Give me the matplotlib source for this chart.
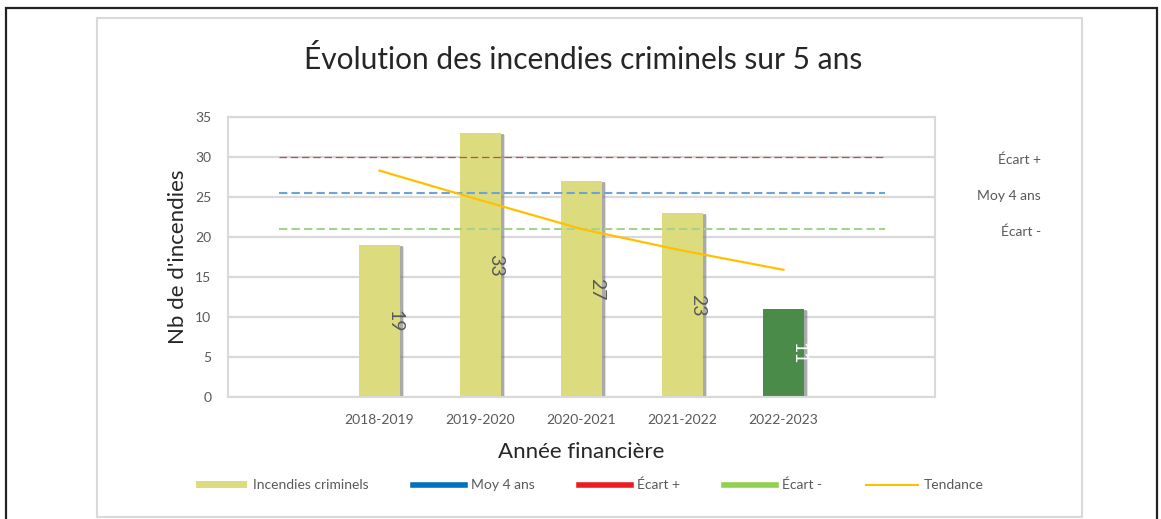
import numpy as np
import matplotlib
matplotlib.use("Agg")
import matplotlib.pyplot as plt
from matplotlib.patches import Rectangle, Patch
from matplotlib.lines import Line2D
from matplotlib import patheffects as pe
from matplotlib.transforms import blended_transform_factory

# ---- data ----
categories = ["", "2018-2019", "2019-2020", "2020-2021", "2021-2022", "2022-2023", ""]
years = ["2018-2019", "2019-2020", "2020-2021", "2021-2022", "2022-2023"]
incendies = [19, 33, 27, 23, 11]
tendance = [28.3, 24.6, 21.0, 18.3, 15.9]
moy_4_ans = 25.5
ecart_plus = 30
ecart_moins = 21
yticks = [0, 5, 10, 15, 20, 25, 30, 35]

plt.rcParams['font.family'] = ['Lato', 'DejaVu Sans']

W, H = 1161, 519
fig = plt.figure(figsize=(W / 100, H / 100), dpi=100)
fig.patch.set_facecolor("white")

def fx(px):
    return px / W

def fy(py):
    return 1 - py / H

# outer black frame and inner chart frame
fig.patches.append(Rectangle((fx(6), fy(530)), fx(1157) - fx(6), fy(8) - fy(530),
                             transform=fig.transFigure, fill=False, ec="#222222", lw=1.6))
fig.patches.append(Rectangle((fx(97), fy(517)), fx(1082) - fx(97), fy(18) - fy(517),
                             transform=fig.transFigure, fill=False, ec="#d9d9d9", lw=1.5))

ax = fig.add_axes([fx(228), fy(397), fx(935) - fx(228), fy(117) - fy(397)])
ax.set_facecolor("white")

xs_all = np.arange(len(categories))
xs = np.arange(1, 1 + len(years))

ax.set_ylim(0, 35)
ax.set_xlim(-0.5, len(categories) - 0.5)
ax.set_yticks(yticks)
ax.yaxis.grid(True, color="#d9d9d9", lw=1.6)
ax.set_axisbelow(True)

bar_colors = ["#dcdc7e"] * (len(years) - 1) + ["#4b8b4a"]
bars = ax.bar(xs, incendies, width=0.4, color=bar_colors, zorder=2)
for b in bars:
    b.set_path_effects([pe.SimplePatchShadow(offset=(2.2, -1), shadow_rgbFace="#666666", alpha=0.5),
                        pe.SimplePatchShadow(offset=(3.4, -1.5), shadow_rgbFace="#999999", alpha=0.3),
                        pe.Normal()])

# reference lines
ax.hlines(ecart_plus, xs_all[0], xs_all[-1], colors="#b5524e", linestyles=(0, (6, 3)), lw=0.9, zorder=3)
ax.hlines(moy_4_ans, xs_all[0], xs_all[-1], colors="#6fa3d8", linestyles=(0, (4, 2)), lw=1.5, zorder=3)
ax.hlines(ecart_moins, xs_all[0], xs_all[-1], colors="#a9d18e", linestyles=(0, (4, 2)), lw=1.5, zorder=3)

# trend
ax.plot(xs, tendance, color="#ffc000", lw=1.6, zorder=4)

# bar labels
label_colors = ["#595959"] * (len(years) - 1) + ["white"]
for x, v, c in zip(xs, incendies, label_colors):
    ax.annotate(str(v), (x, v / 2), xytext=(11, 0), textcoords="offset points",
                rotation=270, ha="center", va="center", fontsize=14, color=c, zorder=5)

# right-side series labels
tr = blended_transform_factory(ax.transAxes, ax.transData)
for val, txt in [(ecart_plus, "Écart +"), (moy_4_ans, "Moy 4 ans"), (ecart_moins, "Écart -")]:
    ax.annotate(txt, (1.15, val), xycoords=tr, xytext=(0, -2), textcoords="offset points",
                ha="right", va="center", fontsize=10, color="#595959", annotation_clip=False)

ax.set_xticks(xs_all)
ax.set_xticklabels(categories)
ax.tick_params(axis="both", length=0, labelsize=10, labelcolor="#595959")
ax.tick_params(axis="x", pad=12)
ax.tick_params(axis="y", pad=12)

for s in ax.spines.values():
    s.set_color("#d9d9d9")
    s.set_linewidth(1.5)

ax.set_xlabel("Année financière", fontsize=16, color="#262626", labelpad=12)
ax.set_ylabel("Nb de d'incendies", fontsize=16, color="#262626", labelpad=5)

fig.text(0.502, fy(60), "Évolution des incendies criminels sur 5 ans", ha="center", va="center",
         fontsize=21.5, color="#262626")

handles = [
    Patch(facecolor="#dcdc7e", edgecolor="none"),
    Line2D([0], [0], color="#0070c0", lw=4),
    Line2D([0], [0], color="#ed1c24", lw=4),
    Line2D([0], [0], color="#92d050", lw=4),
    Line2D([0], [0], color="#ffc000", lw=1.5),
]
labels = ["Incendies criminels", "Moy 4 ans", "Écart +", "Écart -", "Tendance"]
leg = fig.legend(handles, labels, loc="center", bbox_to_anchor=(0.508, fy(485)), ncol=5,
                 frameon=False, fontsize=10, handlelength=3.7, handleheight=0.45,
                 handletextpad=0.45, columnspacing=3.2, labelcolor="#595959")

fig.savefig("out.png", dpi=100, facecolor="white")
